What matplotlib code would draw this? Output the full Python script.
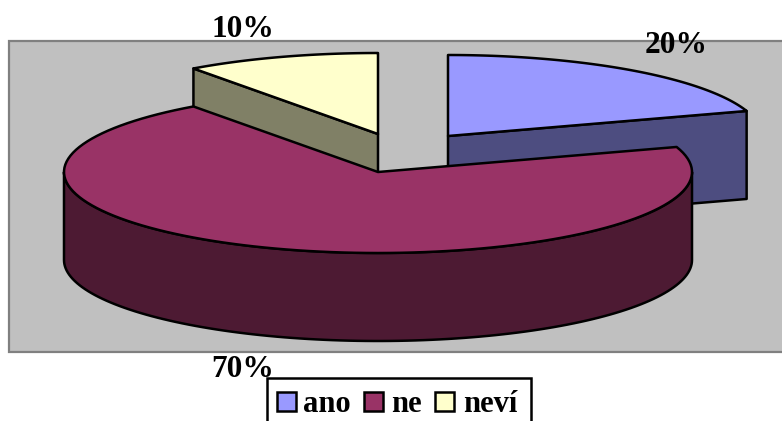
import numpy as np
import matplotlib
matplotlib.use('Agg')
import matplotlib.pyplot as plt
from matplotlib.patches import Polygon, Rectangle

categories = ['ano', 'ne', 'neví']
shares = [20, 70, 10]

top_colors = ['#9999FF', '#993366', '#FFFFCC']
side_colors = ['#4D4D80', '#4D1A33', '#808066']

plt.rcParams['font.family'] = ['Liberation Serif', 'DejaVu Serif']
plt.rcParams['font.weight'] = 'bold'

fig = plt.figure(figsize=(7.82, 4.21), dpi=100)
ax = fig.add_axes([0, 0, 1, 1])
ax.set_xlim(0, 782)
ax.set_ylim(421, 0)
ax.axis('off')

# pie geometry in pixels
cx, cy = 378, 172
rx, ry = 314, 81
depth = 88
offsets = [(70, -36), (0, 0), (0, -38)]
lw = 1.8

# plot area
ax.add_patch(Rectangle((9, 41), 790, 311, fc='#C0C0C0', ec='#808080', lw=1.6, zorder=1))


def ell(angle, ox, oy):
    # angle in degrees, clockwise from twelve o'clock
    a = np.radians(angle)
    return cx + ox + rx * np.sin(a), cy + oy - ry * np.cos(a)


edges = np.cumsum([0] + shares) * 3.6


def poly(pts, color, z):
    ax.add_patch(Polygon(pts, closed=True, fc=color, ec='black', lw=lw, joinstyle='round', zorder=z))


def arc(a0, a1, ox, oy):
    t = np.linspace(a0, a1, 120)
    xs, ys = ell(t, ox, oy)
    return list(zip(xs, ys))


# the two pulled out slices sit behind the big one
for i in [0, 2]:
    ox, oy = offsets[i]
    tip = (cx + ox, cy + oy)
    # cut face that faces the viewer
    edge_angle = edges[i + 1] if i == 0 else edges[i]
    corner = ell(edge_angle, ox, oy)
    poly([tip, corner, (corner[0], corner[1] + depth), (tip[0], tip[1] + depth)], side_colors[i], 2)
    poly([tip] + arc(edges[i], edges[i + 1], ox, oy), top_colors[i], 3)

# big slice: rim along the front, then the top
front = arc(90, 270, 0, 0)
rim = front + [(x, y + depth) for x, y in front[::-1]]
poly(rim, side_colors[1], 4)
poly([(cx, cy)] + arc(edges[1], edges[2], 0, 0), top_colors[1], 5)

# value labels
label_pos = [(645, 53), (211, 377), (211, 37)]
for v, (x, y) in zip(shares, label_pos):
    ax.text(x, y, f'{v}%', fontsize=22.6, ha='left', va='baseline', color='black', zorder=6)

# legend box runs off the bottom edge
ax.add_patch(Rectangle((267, 378), 264, 70, fc='white', ec='black', lw=1.8, zorder=7))
swatch_x = [277, 364, 435]
text_x = [303, 391, 463]
for name, color, sx, tx in zip(categories, top_colors, swatch_x, text_x):
    ax.add_patch(Rectangle((sx, 392), 19, 18.5, fc=color, ec='black', lw=1.8, zorder=8))
    ax.text(tx, 412, name, fontsize=22, ha='left', va='baseline', color='black', zorder=8)

fig.savefig('out.png', dpi=100)
